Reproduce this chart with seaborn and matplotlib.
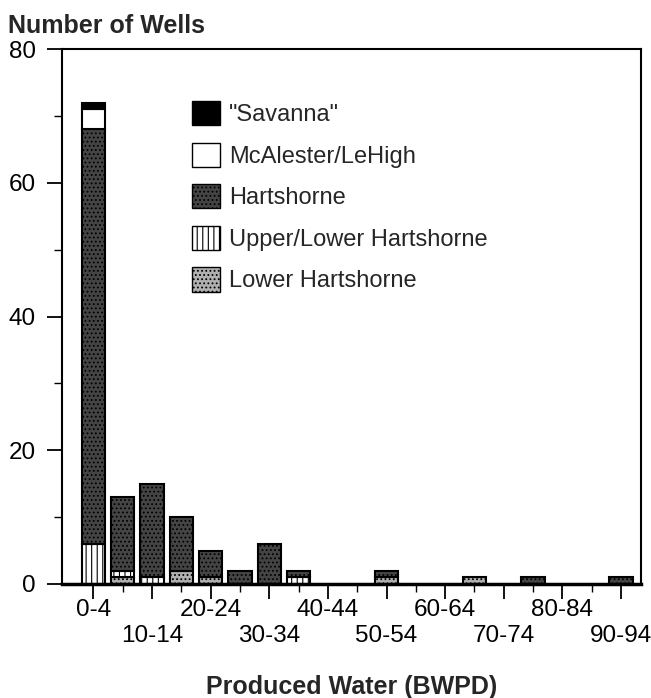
import matplotlib
matplotlib.use("Agg")
import matplotlib.pyplot as plt
from matplotlib.patches import Patch
from matplotlib.ticker import MultipleLocator
import numpy as np
import seaborn as sns

# ---- data ----
categories = ["0-4", "5-9", "10-14", "15-19", "20-24", "25-29", "30-34", "35-39",
              "40-44", "45-49", "50-54", "55-59", "60-64", "65-69", "70-74",
              "75-79", "80-84", "85-89", "90-94"]
lower_hartshorne = [0, 1, 0, 2, 1, 0, 0, 0, 0, 0, 1, 0, 0, 1, 0, 0, 0, 0, 0]
upper_lower_hartshorne = [6, 1, 1, 0, 0, 0, 0, 1, 0, 0, 0, 0, 0, 0, 0, 0, 0, 0, 0]
hartshorne = [62, 11, 14, 8, 4, 2, 6, 1, 0, 0, 1, 0, 0, 0, 0, 1, 0, 0, 1]
mcalester = [3, 0, 0, 0, 0, 0, 0, 0, 0, 0, 0, 0, 0, 0, 0, 0, 0, 0, 0]
savanna = [1, 0, 0, 0, 0, 0, 0, 0, 0, 0, 0, 0, 0, 0, 0, 0, 0, 0, 0]
y_ticks = [0, 20, 40, 60, 80]

sns.set_theme(style="white")
plt.rcParams["font.family"] = ["Liberation Sans", "DejaVu Sans"]
plt.rcParams["hatch.linewidth"] = 0.8

HART_FC = "#444444"
LOWER_FC = "#b0b0b0"

fig = plt.figure(figsize=(6.51, 6.98), dpi=100)
ax = fig.add_axes([62 / 651, 1 - 584 / 698, (641 - 62) / 651, (584 - 49) / 698])

layers = [
    ("Lower Hartshorne", lower_hartshorne, LOWER_FC, "...."),
    ("Upper/Lower Hartshorne", upper_lower_hartshorne, "white", "|||"),
    ("Hartshorne", hartshorne, HART_FC, "...."),
    ("McAlester/LeHigh", mcalester, "white", None),
    ('"Savanna"', savanna, "black", None),
]

bottom = np.zeros(len(categories))
for name, vals, fc, hatch in layers:
    vals = np.array(vals, dtype=float)
    sns.barplot(x=categories, y=vals, bottom=bottom, color=fc, saturation=1,
                edgecolor="black", linewidth=1.5, width=0.8, hatch=hatch,
                errorbar=None, ax=ax, order=categories)
    bottom = bottom + vals

for p in ax.patches:
    if p.get_height() == 0:
        p.set_visible(False)

ax.set_xlim(-1.07, 18.68)
ax.set_ylim(0, 80)
ax.set_yticks(y_ticks)
ax.set_yticklabels([str(v) for v in y_ticks])
ax.yaxis.set_minor_locator(MultipleLocator(10))

major_idx = list(range(0, len(categories), 2))
minor_idx = list(range(1, len(categories), 2))
ax.set_xticks(major_idx)
labels = []
for k, i in enumerate(major_idx):
    lab = categories[i]
    labels.append(lab if k % 2 == 0 else "\n" + lab)
ax.set_xticklabels(labels)
ax.set_xticks(minor_idx, minor=True)

ax.tick_params(axis="both", which="major", direction="out", length=11, width=1.3,
               labelsize=17.5, color="black", labelcolor="black")
ax.tick_params(axis="y", which="major", pad=8)
ax.tick_params(axis="x", which="major", pad=0)
ax.tick_params(axis="both", which="minor", direction="out", length=6, width=1.0,
               color="black")
ax.tick_params(bottom=True, left=True, which="both")
for t in ax.get_xticklabels():
    t.set_linespacing(1.2)

for s in ax.spines.values():
    s.set_visible(True)
    s.set_color("black")
    s.set_linewidth(1.5)
ax.spines["bottom"].set_linewidth(2.5)

ax.set_xlabel("")
ax.set_ylabel("")

fig.text(8 / 651, 1 - 33 / 698, "Number of Wells", fontsize=18, fontweight="bold",
         ha="left", va="baseline")
fig.text(351.5 / 651, 1 - 694 / 698, "Produced Water (BWPD)", fontsize=18,
         fontweight="bold", ha="center", va="baseline")

handles = [
    Patch(facecolor="black", edgecolor="black", label='"Savanna"'),
    Patch(facecolor="white", edgecolor="black", label="McAlester/LeHigh"),
    Patch(facecolor=HART_FC, edgecolor="black", hatch="....", label="Hartshorne"),
    Patch(facecolor="white", edgecolor="black", hatch="|||", label="Upper/Lower Hartshorne"),
    Patch(facecolor=LOWER_FC, edgecolor="black", hatch="....", label="Lower Hartshorne"),
]
fig.legend(handles=handles, loc="upper left", bbox_to_anchor=(192 / 651, 1 - 101 / 698),
           bbox_transform=fig.transFigure, frameon=False, fontsize=17,
           handlelength=1.2, handleheight=1.2, labelspacing=0.7,
           handletextpad=0.38, borderpad=0, borderaxespad=0)

fig.savefig("out.png", dpi=100)
